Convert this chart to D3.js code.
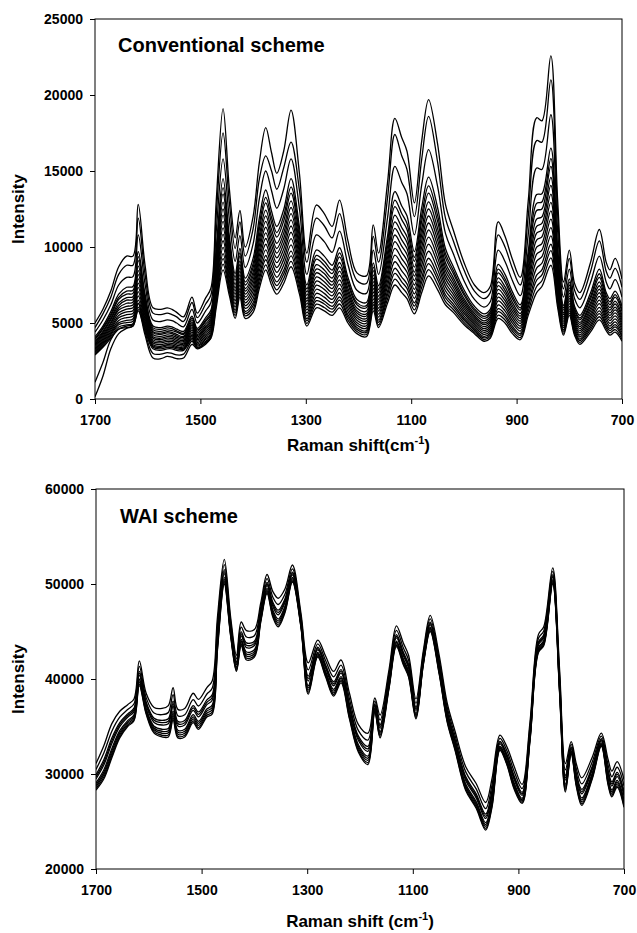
<!DOCTYPE html>
<html><head><meta charset="utf-8">
<script src="https://cdn.jsdelivr.net/npm/d3@7"></script>
<style>
body{margin:0;background:#fff;}
svg{display:block;font-family:"Liberation Sans",Arial,Helvetica,sans-serif;font-weight:bold;}
</style></head><body>
<svg id="chart" width="637" height="933"></svg>
<script>
// Raman shift sampling points (cm-1), shared by every spectrum
const shifts = [1700,1685,1670,1655,1640,1628,1618,1605,1590,1575,1563,1554,1545,1532,1516,1506,1490,1480,1470,1457,
  1445,1434,1425,1415,1400,1388,1376,1365,1355,1342,1328,1312,1298,1280,1265,1250,1236,1220,1203,1185,
  1172,1162,1145,1131,1118,1108,1094,1080,1067,1050,1035,1020,1000,980,962,950,935,922,908,893,
  878,862,852,835,822,811,800,790,780,760,743,730,723,713,700];

// Conventional scheme spectra, highest to lowest
const conv1 = [5000,5900,7100,8700,9400,9400,12800,8800,6000,5900,6000,5900,5700,5400,6700,5650,6650,7300,13000,19100,
  13800,10600,12400,10000,12000,15600,17850,16200,14850,16300,19000,14800,9600,12760,12200,11350,13090,10400,8300,8100,
  11450,9600,14200,18460,17200,16300,12900,17000,19700,16800,12800,11100,9000,7500,7000,7400,11660,10700,9200,8000,
  13000,18500,18300,22570,13000,7700,9800,7600,7000,8950,11150,9000,8500,9250,7900];
const conv2 = [4700,5600,6700,8200,8800,8800,11900,8200,5650,5550,5650,5550,5400,5100,6350,5350,6250,6850,12100,17500,
  12900,9900,11650,9400,11200,14500,16000,15000,13800,15200,16900,13700,9000,11900,11400,10600,12200,9700,7800,7600,
  10700,9000,13200,17400,16000,15100,12000,15800,18600,15600,11900,10400,8500,7100,6600,7000,10800,10000,8600,7500,
  12000,17000,16900,21000,12100,7250,9250,7150,6550,8350,10400,8400,7950,8600,7350];
const conv3 = [4400,5200,6200,7500,8000,8050,10800,7550,5200,5100,5200,5150,5000,4750,5900,5000,5800,6350,11000,15800,
  11800,9050,10750,8650,10200,13200,15000,13700,12550,13800,15800,12500,8200,10800,10350,9650,11050,8850,7150,6950,
  9800,8200,11900,15300,14250,13500,10800,14100,16400,14000,10900,9550,7800,6550,6050,6400,9800,9050,7800,6800,
  10800,15200,15100,18700,11000,6700,8550,6600,6000,7650,9400,7700,7250,7850,6700];
const conv4 = [4100,4800,5750,6900,7350,7400,9700,6900,4800,4700,4800,4750,4600,4450,5450,4650,5350,5850,9900,14500,
  10700,8250,9900,7950,9250,11950,13750,12350,11350,12450,14500,11300,7500,9800,9400,8800,9950,8000,6550,6350,
  8950,7450,10700,13650,12700,12050,9700,12600,14600,12600,9900,8700,7200,6100,5600,5900,8850,8200,7050,6200,
  9700,13450,13500,16500,9900,6150,7900,6100,5500,6950,8550,7000,6600,7100,6100];
const conv5 = [3970,4680,5580,6690,7100,7150,9370,6690,4680,4580,4680,4630,4480,4320,5330,4550,5200,5680,9570,13910,
  10370,8000,9610,7700,8910,11530,13270,11940,10950,12040,13950,10930,7250,9450,9060,8480,9620,7750,6340,6140,
  8680,7200,10330,13090,12200,11550,9320,12100,14020,12100,9570,8450,6990,5930,5430,5730,8540,7910,6800,5990,
  9330,12870,12960,15820,9570,5990,7690,5930,5330,6720,8240,6800,6390,6870,5890];
const conv6 = [3900,4600,5450,6550,6900,6950,9100,6500,4550,4450,4550,4500,4400,4250,5200,4450,5100,5550,9300,13500,
  10100,7800,9400,7500,8650,11200,12900,11600,10650,11700,13550,10600,7050,9200,8800,8250,9350,7550,6200,6000,
  8450,7000,10000,12650,11800,11150,9050,11700,13550,11700,9300,8250,6850,5800,5300,5600,8300,7700,6600,5850,
  9000,12400,12500,15300,9300,5850,7500,5800,5200,6550,8000,6600,6200,6700,5750];
const conv7 = [3780,4450,5300,6320,6670,6730,8740,6310,4430,4330,4430,4390,4250,4120,5080,4350,4940,5390,8940,12950,
  9740,7530,9090,7270,8350,10790,12430,11150,10240,11250,13030,10220,6820,8840,8490,7960,8980,7270,5980,5780,
  8170,6760,9620,12100,11280,10670,8670,11200,12970,11230,8970,7970,6620,5640,5140,5430,7970,7390,6360,5620,
  8650,11830,11980,14580,8940,5670,7310,5630,5030,6310,7700,6390,6010,6440,5520];
const conv8 = [3700,4350,5200,6150,6500,6550,8450,6150,4350,4250,4350,4300,4150,4050,4950,4250,4800,5250,8650,12500,
  9450,7300,8850,7100,8100,10450,12050,10800,9900,10900,12600,9900,6600,8550,8250,7700,8700,7050,5800,5600,
  7950,6550,9300,11650,10900,10300,8350,10800,12500,10850,8700,7750,6450,5500,5000,5300,7700,7150,6150,5450,
  8350,11350,11550,14050,8650,5550,7150,5500,4900,6150,7450,6200,5850,6250,5350];
const conv9 = [3610,4250,5050,5990,6300,6360,8180,5960,4220,4120,4220,4180,4050,3950,4850,4170,4700,5120,8380,12100,
  9180,7100,8640,6900,7840,10120,11680,10460,9600,10560,12200,9590,6430,8300,7980,7490,8410,6840,5660,5460,
  7720,6370,8990,11230,10470,9900,8080,10400,12040,10460,8440,7540,6290,5390,4890,5160,7460,6940,5970,5290,
  8050,10910,11110,13480,8380,5390,6960,5360,4760,5950,7220,6030,5660,6050,5190];
const conv10 = [3550,4150,4950,5850,6100,6180,7900,5800,4100,4000,4100,4080,3950,3860,4740,4080,4600,4990,8100,11680,
  8900,6890,8410,6710,7590,9790,11300,10110,9285,10210,11790,9270,6240,8030,7720,7260,8130,6620,5500,5300,
  7500,6170,8670,10790,10060,9510,7790,10000,11580,10080,8180,7320,6130,5260,4760,5020,7210,6710,5770,5130,
  7750,10450,10670,12930,8100,5250,6790,5220,4620,5770,6990,5850,5490,5860,5030];
const conv11 = [3450,4050,4810,5670,5920,6000,7620,5620,4000,3900,4000,3980,3850,3770,4630,3990,4470,4860,7820,11260,
  8620,6680,8180,6520,7340,9460,10930,9760,8970,9860,11380,8950,6050,7760,7460,7020,7840,6400,5340,5140,
  7270,5970,8350,10350,9650,9120,7500,9600,11120,9700,7920,7100,5970,5130,4630,4880,6950,6480,5570,4970,
  7450,9990,10230,12380,7820,5110,6620,5080,4480,5580,6750,5670,5320,5660,4870];
const conv12 = [3360,3950,4680,5500,5730,5810,7340,5450,3890,3790,3890,3870,3750,3680,4520,3900,4350,4730,7540,10830,
  8340,6470,7950,6330,7090,9130,10560,9410,8650,9510,10970,8640,5860,7490,7210,6790,7560,6190,5180,4980,
  7040,5780,8040,9910,9240,8730,7210,9200,10650,9310,7650,6890,5800,5000,4500,4750,6700,6250,5380,4800,
  7150,9530,9800,11830,7540,4970,6450,4950,4350,5400,6510,5490,5150,5470,4700];
const conv13 = [3280,3850,4560,5340,5550,5630,7060,5270,3790,3690,3790,3770,3650,3600,4400,3810,4230,4590,7260,10410,
  8060,6250,7730,6150,6830,8790,10180,9070,8330,9170,10550,8320,5660,7220,6950,6550,7280,5970,5020,4820,
  6820,5580,7720,9470,8840,8350,6910,8800,10190,8930,7390,6670,5640,4880,4380,4610,6450,6030,5180,4640,
  6850,9070,9360,11280,7260,4830,6270,4810,4210,5220,6270,5310,4970,5270,4540];
const conv14 = [3190,3750,4430,5170,5360,5440,6780,5100,3680,3580,3680,3660,3550,3510,4290,3720,4110,4460,6980,9980,
  7780,6040,7500,5960,6580,8460,9810,8720,8010,8820,10140,8010,5470,6950,6700,6320,6990,5760,4860,4660,
  6590,5390,7410,9030,8430,7960,6620,8400,9720,8540,7120,6460,5470,4750,4250,4480,6190,5800,4990,4470,
  6550,8610,8930,10730,6980,4690,6100,4680,4080,5040,6030,5130,4800,5080,4370];
const conv15 = [3110,3650,4310,5010,5170,5260,6500,4930,3570,3470,3570,3560,3450,3420,4180,3630,4000,4330,6700,9560,
  7500,5830,7270,5770,6330,8130,9440,8370,7700,8470,9730,7690,5280,6680,6440,6090,6710,5540,4700,4500,
  6370,5190,7090,8600,8020,7570,6330,8000,9260,8160,6860,6240,5310,4620,4120,4340,5940,5570,4790,4310,
  6250,8150,8490,10180,6700,4550,5930,4540,3940,4860,5800,4950,4630,4890,4210];
const conv16 = [3050,3580,4220,4890,5030,5120,6290,4800,3490,3390,3490,3480,3380,3350,4100,3560,3910,4230,6490,9240,
  7290,5670,7100,5630,6140,7880,9160,8110,7460,8210,9420,7450,5140,6470,6250,5910,6500,5380,4580,4380,
  6200,5040,6850,8270,7710,7280,6110,7700,8910,7870,6660,6080,5190,4520,4020,4240,5750,5400,4640,4190,
  6030,7810,8160,9760,6490,4450,5800,4440,3840,4720,5620,4820,4500,4740,4090];
const conv17 = [2970,3490,4110,4740,4870,4960,6050,4650,3400,3300,3400,3390,3290,3280,4000,3480,3800,4120,6250,8870,
  7050,5490,6900,5470,5920,7590,8830,7810,7180,7910,9060,7180,4970,6240,6020,5710,6250,5190,4440,4240,
  6000,4870,6580,7880,7360,6940,5860,7350,8510,7540,6430,5890,5040,4410,3910,4120,5520,5200,4470,4040,
  5760,7400,7780,9280,6250,4320,5650,4320,3720,4560,5410,4660,4350,4570,3940];
const conv18 = [2900,3400,4000,4600,4700,4800,5800,4500,3300,3200,3300,3300,3200,3200,3900,3400,3700,4000,6000,8500,
  6800,5300,6700,5300,5700,7300,8500,7500,6900,7600,8700,6900,4800,6000,5800,5500,6000,5000,4300,4100,
  5800,4700,6300,7500,7000,6600,5600,7000,8100,7200,6200,5700,4900,4300,3800,4000,5300,5000,4300,3900,
  5500,7000,7400,8800,6000,4200,5500,4200,3600,4400,5200,4500,4200,4400,3800];
// two spectra that start far below the rest at the high-shift end, then join the lowest group by 1480 cm-1
const convTailShifts = shifts.slice(0, 18);
const convTail1 = [150,1500,3300,4300,4650,4800,5900,4200,2700,2650,2800,2750,2650,2700,3600,3300,3600,4000];
const convTail2 = [1100,2400,3900,4600,4800,4900,6300,4400,3000,2950,3050,3000,2900,2950,3800,3350,3700,4100];

// WAI scheme spectra, highest to lowest
const wai1 = [31100,33000,35300,36600,37300,37900,41900,38500,37000,36900,37200,39100,36800,36900,38500,37850,39100,39800,46500,52600,
  46500,42500,46000,45100,45200,48000,51000,49200,48500,49500,52000,47000,41700,44100,42400,40800,42000,38500,35200,34300,
  38000,36200,41000,45600,43800,42500,37900,43000,46700,42500,37500,34500,30800,29000,27000,29500,34100,32900,30800,28900,
  35500,44700,45500,51700,41000,31100,33400,31000,29600,31800,34300,31500,30300,31300,29400];
const wai2 = [30480,32230,34510,35980,36790,37390,41330,38020,36410,36240,36470,38350,36140,36240,37820,37160,38420,39030,45730,52030,
  46060,42130,45450,44420,44560,47560,50560,48610,47840,48950,51600,46670,40970,43700,41920,40230,41470,37910,34560,33570,
  37670,35670,40560,45120,43290,41990,37440,42670,46330,42060,37060,34060,30250,28430,26360,28840,33750,32480,30270,28460,
  35060,44280,45060,51330,40450,30440,33110,30470,28960,31290,33990,30910,29710,30710,28760];
const wai3 = [29920,31530,33790,35420,36330,36930,40810,37580,35870,35640,35810,37670,35540,35640,37200,36530,37800,38330,45030,51510,
  45660,41790,44950,43800,43980,47160,50160,48070,47240,48450,51240,46370,40310,43340,41480,39710,40990,37370,33980,32910,
  37370,35190,40160,44680,42830,41530,37020,42370,45990,41660,36660,33660,29750,27910,25780,28240,33430,32100,29790,28060,
  34660,43900,44660,50990,39950,29840,32850,29990,28380,30830,33710,30370,29170,30170,28180];
const wai4 = [29700,31250,33500,35200,36150,36750,40600,37400,35650,35400,35550,37400,35300,35400,36950,36280,37550,38050,44750,51300,
  45500,41650,44750,43550,43750,47000,50000,47850,47000,48250,51100,46250,40050,43200,41300,39500,40800,37150,33750,32650,
  37250,35000,40000,44500,42650,41350,36850,42250,45850,41500,36500,33500,29550,27700,25550,28000,33300,31950,29600,27900,
  34500,43750,44500,50850,39750,29600,32750,29800,28150,30650,33600,30150,28950,29950,27950];
const wai5 = [29480,30970,33210,34980,35970,36570,40390,37220,35430,35160,35290,37130,35060,35160,36700,36020,37300,37770,44470,51090,
  45340,41510,44550,43300,43520,46840,49840,47630,46760,48050,50960,46130,39790,43060,41120,39290,40610,36930,33520,32390,
  37130,34810,39840,44320,42470,41170,36680,42130,45710,41340,36340,33340,29350,27490,25320,27760,33170,31800,29410,27740,
  34340,43600,44340,50710,39550,29360,32650,29610,27920,30470,33490,29930,28730,29730,27720];
const wai6 = [29060,30450,32670,34560,35620,36220,40000,36890,35030,34710,34790,36620,34610,34710,36240,35550,36840,37250,43950,50700,
  45040,41260,44180,42840,43080,46540,49540,47230,46310,47680,50690,45910,39290,42790,40790,38900,40250,36530,33080,31890,
  36910,34450,39540,43990,42120,40820,36370,41910,45460,41040,36040,33040,28980,27100,24880,27310,32930,31510,29050,27440,
  34040,43310,44040,50460,39180,28910,32450,29250,27480,30120,33280,29530,28330,29330,27280];
const wai7 = [28860,30200,32420,34360,35460,36060,39820,36740,34840,34500,34560,36380,34400,34500,36020,35330,36620,37000,43700,50520,
  44900,41140,44000,42620,42880,46400,49400,47040,46100,47500,50560,45800,39060,42660,40640,38720,40080,36340,32880,31660,
  36800,34280,39400,43840,41960,40660,36220,41800,45340,40900,35900,32900,28800,26920,24680,27100,32820,31380,28880,27300,
  33900,43180,43900,50340,39000,28700,32360,29080,27280,29960,33180,29340,28140,29140,27080];
const wai8 = [28660,29960,32170,34160,35300,35900,39640,36590,34650,34290,34330,36140,34190,34290,35800,35110,36400,36760,43460,50340,
  44760,41020,43830,42400,42680,46260,49260,46850,45890,47330,50430,45700,38830,42530,40490,38540,39910,36150,32680,31430,
  36700,34110,39260,43690,41800,40500,36070,41700,45220,40760,35760,32760,28630,26740,24480,26890,32710,31250,28710,27160,
  33760,43050,43760,50220,38830,28490,32270,28910,27080,29800,33080,29150,27950,28950,26880];
const wai9 = [28470,29710,31920,33970,35140,35740,39460,36430,34460,34080,34100,35900,33980,34080,35590,34890,36190,36510,43210,50160,
  44620,40900,43650,42190,42470,46120,49120,46660,45680,47150,50310,45590,38600,42410,40330,38360,39740,35960,32470,31200,
  36590,33940,39120,43530,41640,40340,35930,41590,45100,40620,35620,32620,28450,26560,24270,26680,32600,31110,28540,27020,
  33620,42910,43620,50100,38650,28280,32180,28740,26870,29640,32980,28960,27760,28760,26670];
const wai10 = [28300,29500,31700,33800,35000,35600,39300,36300,34300,33900,33900,35700,33800,33900,35400,34700,36000,36300,43000,50000,
  44500,40800,43500,42000,42300,46000,49000,46500,45500,47000,50200,45500,38400,42300,40200,38200,39600,35800,32300,31000,
  36500,33800,39000,43400,41500,40200,35800,41500,45000,40500,35500,32500,28300,26400,24100,26500,32500,31000,28400,26900,
  33500,42800,43500,50000,38500,28100,32100,28600,26700,29500,32900,28800,27600,28600,26500];

// axis ticks
const shiftTicks = [1700,1500,1300,1100,900,700];
const convTicks = [0,5000,10000,15000,20000,25000];
const waiTicks = [20000,30000,40000,50000,60000];

const convSpectra = [conv1,conv2,conv3,conv4,conv5,conv6,conv7,conv8,conv9,conv10,conv11,conv12,conv13,conv14,conv15,conv16,conv17,conv18];
const waiSpectra = [wai1,wai2,wai3,wai4,wai5,wai6,wai7,wai8,wai9,wai10];

const svg = d3.select("#chart");
svg.append("rect").attr("width",637).attr("height",933).attr("fill","#fff");

function drawPanel(p) {
  const x = d3.scaleLinear().domain([1700,700]).range([p.left,p.right]);
  const y = d3.scaleLinear().domain(p.yDomain).range([p.bottom,p.top]);
  const g = svg.append("g");
  const clipId = "clip-" + p.id;
  g.append("clipPath").attr("id",clipId).append("rect")
    .attr("x",p.left).attr("y",p.top).attr("width",p.right-p.left).attr("height",p.bottom-p.top);

  const lines = g.append("g").attr("clip-path",`url(#${clipId})`);
  p.series.forEach(s => {
    const line = d3.line().x((d,i)=>x(s.x[i])).y(d=>y(d)).curve(d3.curveCatmullRom.alpha(0.5));
    lines.append("path").attr("d",line(s.y))
      .attr("fill","none").attr("stroke","#000").attr("stroke-width",1.3);
  });

  // frame
  g.append("rect").attr("x",p.left).attr("y",p.top)
    .attr("width",p.right-p.left).attr("height",p.bottom-p.top)
    .attr("fill","none").attr("stroke","#000").attr("stroke-width",1);

  const ax = g.append("g").attr("transform",`translate(0,${p.bottom})`)
    .call(d3.axisBottom(x).tickValues(shiftTicks).tickSize(5).tickSizeOuter(0).tickPadding(11).tickFormat(d3.format("d")));
  const ay = g.append("g").attr("transform",`translate(${p.left},0)`)
    .call(d3.axisLeft(y).tickValues(p.yTicks).tickSize(5).tickSizeOuter(0).tickPadding(7).tickFormat(d3.format("d")));
  [ax,ay].forEach(a => {
    a.attr("font-family",null).attr("font-size",null);
    a.select(".domain").remove();
    a.selectAll("line").attr("stroke","#000");
    a.selectAll("text").attr("fill","#000").style("font-size","14px").style("font-weight","bold");
  });

  // panel title
  g.append("text").attr("x",p.titleX).attr("y",p.titleY)
    .style("font-size","20px").text(p.title);

  // y axis title
  g.append("text").attr("transform",`translate(24,${(p.top+p.bottom)/2}) rotate(-90)`)
    .attr("text-anchor","middle").style("font-size","17px").text("Intensity");

  // x axis title with superscript
  const xt = g.append("text").attr("x",(p.left+p.right)/2).attr("y",p.xTitleY)
    .attr("text-anchor","middle").style("font-size","17px");
  xt.append("tspan").text(p.xTitle);
  xt.append("tspan").attr("dy",-7).style("font-size","11px").text("-1");
  xt.append("tspan").attr("dy",7).text(")");
}

drawPanel({
  id:"conv", left:95, right:622, top:19, bottom:399,
  yDomain:[0,25000], yTicks:convTicks,
  series:convSpectra.map(v=>({x:shifts,y:v}))
    .concat([convTail1,convTail2].map(v=>({x:convTailShifts,y:v}))),
  title:"Conventional scheme", titleX:118, titleY:52,
  xTitle:"Raman shift(cm", xTitleY:451
});

drawPanel({
  id:"wai", left:96, right:624, top:489, bottom:869,
  yDomain:[20000,60000], yTicks:waiTicks,
  series:waiSpectra.map(v=>({x:shifts,y:v})),
  title:"WAI scheme", titleX:120, titleY:523,
  xTitle:"Raman shift (cm", xTitleY:927
});
</script>
</body></html>
